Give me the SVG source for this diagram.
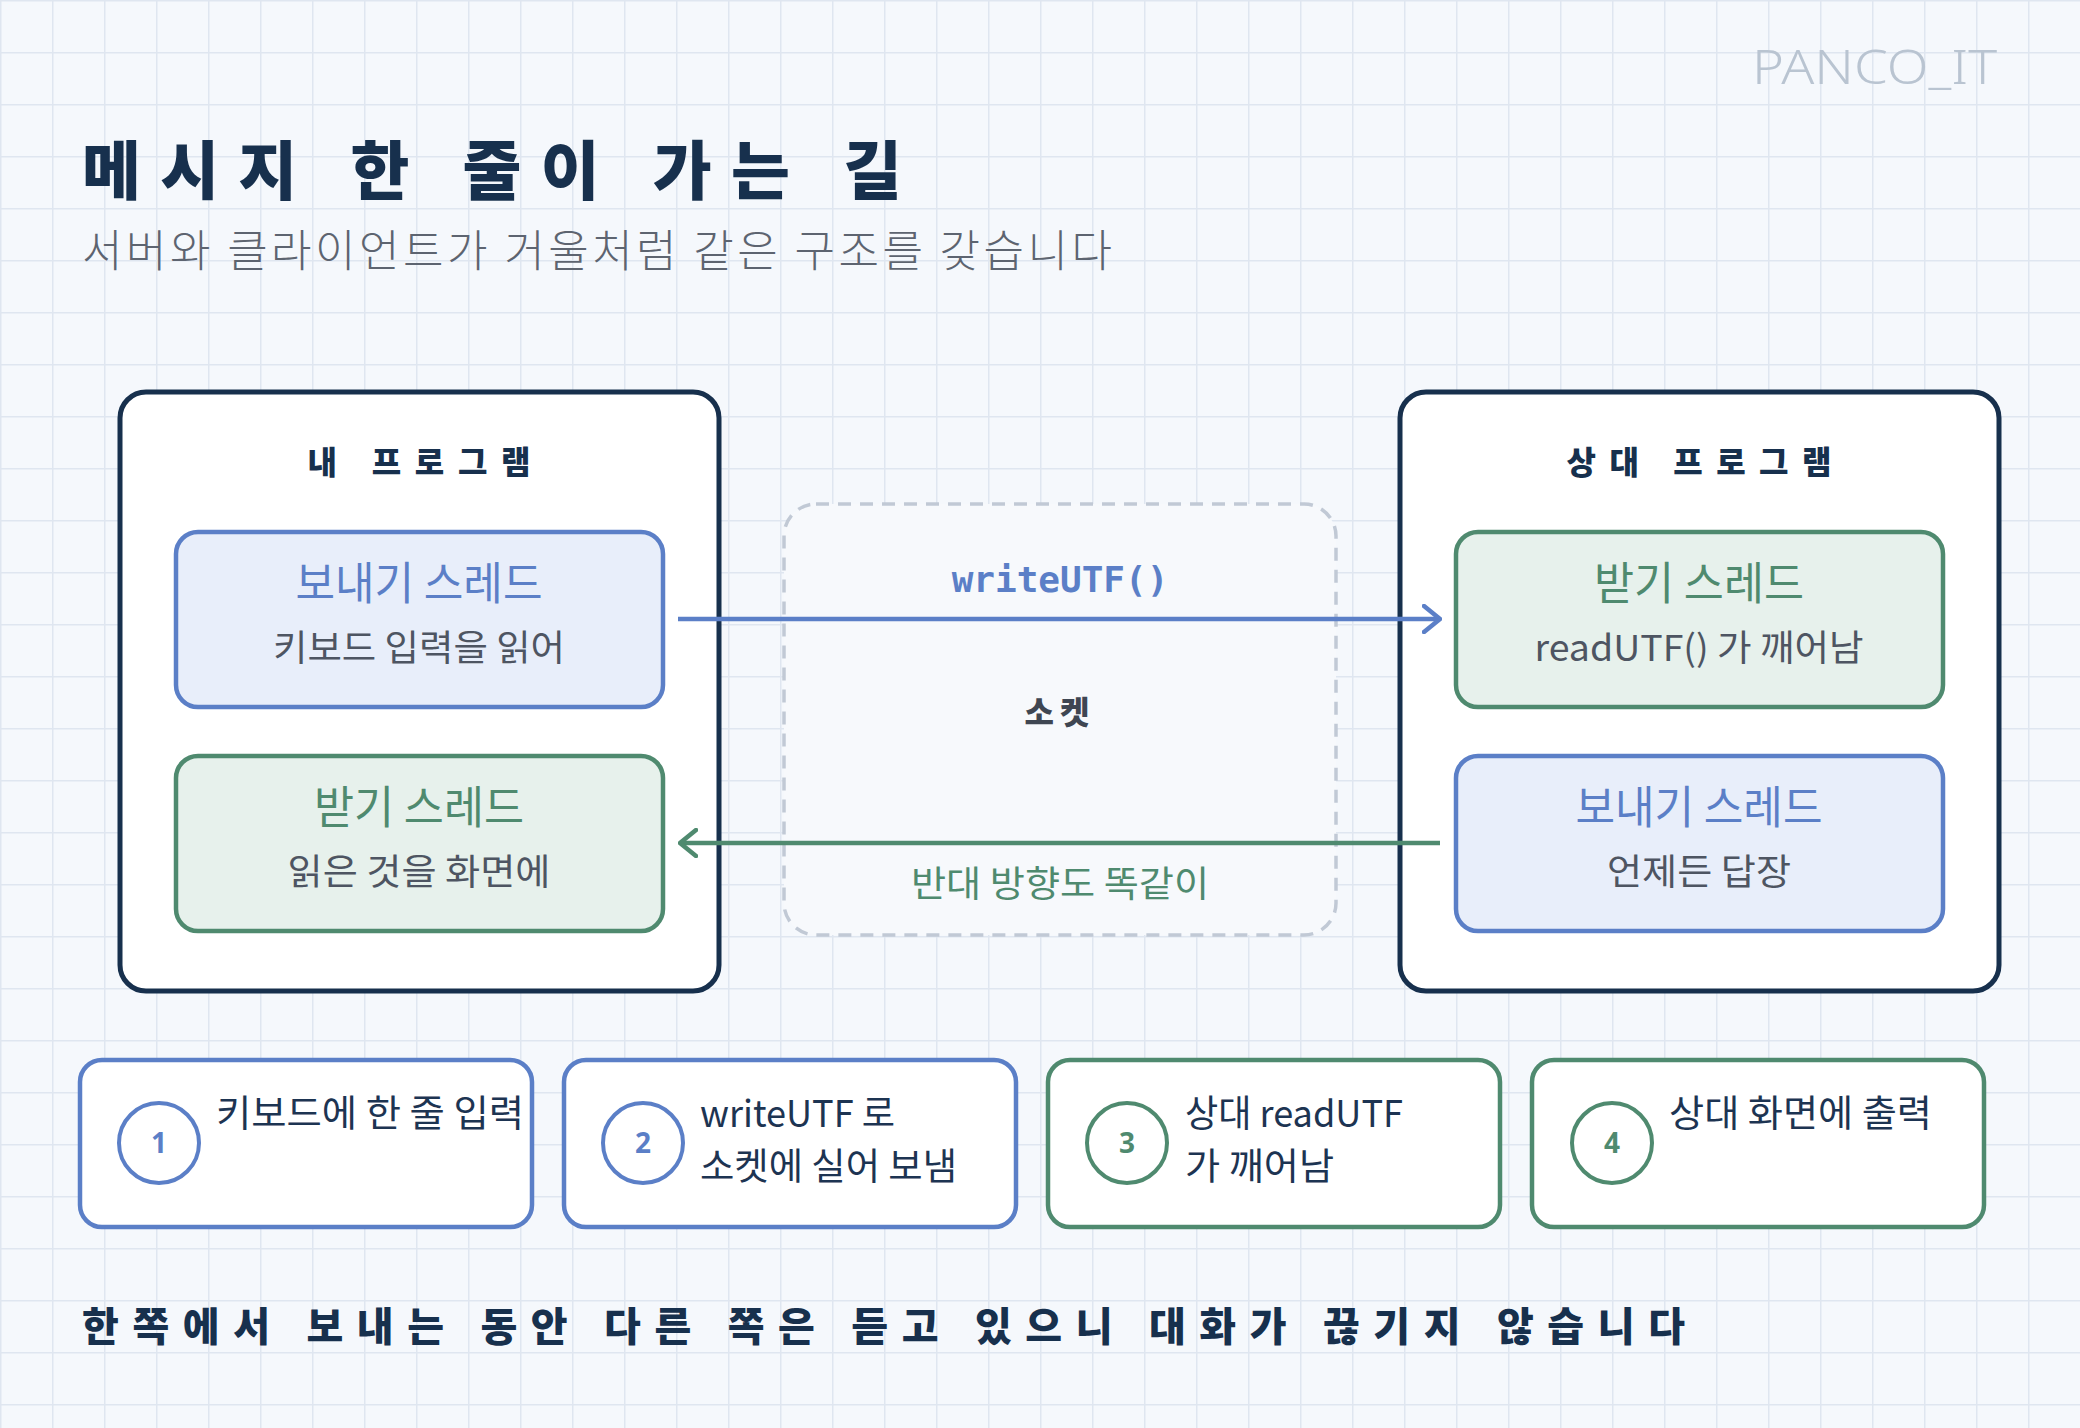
<svg xmlns="http://www.w3.org/2000/svg" width="2080" height="1428" viewBox="0 0 2080 1428">
<defs>
<pattern id="grid" width="52" height="52" patternUnits="userSpaceOnUse">
<path d="M0 0.75 H52 M0.75 0 V52" fill="none" stroke="#dfe6f0" stroke-width="1.5"/>
</pattern>
<marker id="ahBlue" viewBox="0 0 20 30" refX="18" refY="15" markerWidth="20" markerHeight="30" markerUnits="userSpaceOnUse" orient="auto">
<path d="M2 2 L18 15 L2 28" fill="none" stroke="#5b7fc7" stroke-width="4.5" stroke-linecap="round" stroke-linejoin="round"/>
</marker>
<marker id="ahGreen" viewBox="0 0 20 30" refX="18" refY="15" markerWidth="20" markerHeight="30" markerUnits="userSpaceOnUse" orient="auto">
<path d="M2 2 L18 15 L2 28" fill="none" stroke="#4f8a6f" stroke-width="4.5" stroke-linecap="round" stroke-linejoin="round"/>
</marker>
</defs>
<style>
.kr{font-family:'Noto Sans CJK KR','Noto Sans',sans-serif}
.hand{font-family:'Noto Sans CJK KR',sans-serif;font-weight:900;fill:#17304d}
.big{fill:#ffffff;stroke:#17304d;stroke-width:5}
.bluebox{fill:#e8eefa;stroke:#5b7fc7;stroke-width:4.5}
.greenbox{fill:#e7f1ec;stroke:#4f8a6f;stroke-width:4.5}
.ttl{font-size:45px;text-anchor:middle}
.sub{font-size:36px;text-anchor:middle;fill:#4e5562}
.bluet{fill:#5b7fc7}
.greent{fill:#4f8a6f}
.step{fill:#ffffff;stroke-width:4.5}
.stext{font-size:37px;fill:#1d3452}
.num{font-family:'Noto Sans',sans-serif;font-weight:700;font-size:28px;text-anchor:middle}
</style>
<rect width="2080" height="1428" fill="#f5f8fc"/>
<rect width="2080" height="1428" fill="url(#grid)"/>

<text x="1997" y="84" text-anchor="end" font-family="'Noto Sans',sans-serif" font-weight="300" font-size="48" fill="#b9c4d1" textLength="245" lengthAdjust="spacingAndGlyphs">PANCO_IT</text>
<text class="hand" x="82" y="194" font-size="64" textLength="820" lengthAdjust="spacing">메시지 한 줄이 가는 길</text>
<text class="kr" x="82" y="267" font-size="44" font-weight="300" fill="#5d6470" textLength="1030" lengthAdjust="spacing">서버와 클라이언트가 거울처럼 같은 구조를 갖습니다</text>

<g id="socket">
<rect x="784" y="504" width="552" height="431" rx="32" fill="#f7f9fc" stroke="#c1c9d5" stroke-width="3.5" stroke-dasharray="13 9"/>
<text class="hand" x="1060" y="724" font-size="32" text-anchor="middle" style="fill:#3f4652" letter-spacing="6">소켓</text>
</g>

<g id="my-program">
<rect class="big" x="120" y="392" width="599" height="599" rx="26"/>
<text class="hand" x="419" y="474" font-size="32" text-anchor="middle" textLength="223" lengthAdjust="spacing">내 프로그램</text>
</g>
<g id="my-send">
<rect class="bluebox" x="176" y="532" width="487" height="175" rx="22"/>
<text class="kr ttl bluet" x="419" y="600" textLength="247" lengthAdjust="spacingAndGlyphs">보내기 스레드</text>
<text class="kr sub" x="419" y="661" textLength="292" lengthAdjust="spacingAndGlyphs">키보드 입력을 읽어</text>
</g>
<g id="my-recv">
<rect class="greenbox" x="176" y="756" width="487" height="175" rx="22"/>
<text class="kr ttl greent" x="419" y="824" textLength="210" lengthAdjust="spacingAndGlyphs">받기 스레드</text>
<text class="kr sub" x="419" y="885" textLength="263" lengthAdjust="spacingAndGlyphs">읽은 것을 화면에</text>
</g>

<g id="peer-program">
<rect class="big" x="1400" y="392" width="599" height="599" rx="26"/>
<text class="hand" x="1699" y="474" font-size="32" text-anchor="middle" textLength="265" lengthAdjust="spacing">상대 프로그램</text>
</g>
<g id="peer-recv">
<rect class="greenbox" x="1456" y="532" width="487" height="175" rx="22"/>
<text class="kr ttl greent" x="1699" y="600" textLength="210" lengthAdjust="spacingAndGlyphs">받기 스레드</text>
<text class="kr sub" x="1699" y="661" textLength="329" lengthAdjust="spacingAndGlyphs">readUTF() 가 깨어남</text>
</g>
<g id="peer-send">
<rect class="bluebox" x="1456" y="756" width="487" height="175" rx="22"/>
<text class="kr ttl bluet" x="1699" y="824" textLength="247" lengthAdjust="spacingAndGlyphs">보내기 스레드</text>
<text class="kr sub" x="1699" y="885" textLength="184" lengthAdjust="spacingAndGlyphs">언제든 답장</text>
</g>

<g id="connectors">
<line x1="678" y1="619" x2="1440" y2="619" stroke="#5b7fc7" stroke-width="4.5" marker-end="url(#ahBlue)"/>
<text x="1060" y="592" text-anchor="middle" font-family="'DejaVu Sans Mono',monospace" font-weight="700" font-size="36" fill="#5b7fc7">writeUTF()</text>
<line x1="1440" y1="843" x2="680" y2="843" stroke="#4f8a6f" stroke-width="4.5" marker-end="url(#ahGreen)"/>
<text class="kr" x="1060" y="897" text-anchor="middle" font-size="36" fill="#4f8a6f" textLength="298" lengthAdjust="spacingAndGlyphs">반대 방향도 똑같이</text>
</g>

<g id="step1">
<rect class="step" x="80" y="1060" width="452" height="167" rx="22" stroke="#5b7fc7"/>
<circle cx="159" cy="1143" r="40" fill="#ffffff" stroke="#5b7fc7" stroke-width="4"/>
<text class="num" x="159" y="1153" fill="#5b7fc7">1</text>
<text class="kr stext" x="216" y="1127" textLength="308" lengthAdjust="spacingAndGlyphs">키보드에 한 줄 입력</text>
</g>
<g id="step2">
<rect class="step" x="564" y="1060" width="452" height="167" rx="22" stroke="#5b7fc7"/>
<circle cx="643" cy="1143" r="40" fill="#ffffff" stroke="#5b7fc7" stroke-width="4"/>
<text class="num" x="643" y="1153" fill="#5b7fc7">2</text>
<text class="kr stext" x="700" y="1127" textLength="195" lengthAdjust="spacingAndGlyphs">writeUTF 로</text>
<text class="kr stext" x="700" y="1180" textLength="257" lengthAdjust="spacingAndGlyphs">소켓에 실어 보냄</text>
</g>
<g id="step3">
<rect class="step" x="1048" y="1060" width="452" height="167" rx="22" stroke="#4f8a6f"/>
<circle cx="1127" cy="1143" r="40" fill="#ffffff" stroke="#4f8a6f" stroke-width="4"/>
<text class="num" x="1127" y="1153" fill="#4f8a6f">3</text>
<text class="kr stext" x="1185" y="1127" textLength="218" lengthAdjust="spacingAndGlyphs">상대 readUTF</text>
<text class="kr stext" x="1185" y="1180" textLength="149" lengthAdjust="spacingAndGlyphs">가 깨어남</text>
</g>
<g id="step4">
<rect class="step" x="1532" y="1060" width="452" height="167" rx="22" stroke="#4f8a6f"/>
<circle cx="1612" cy="1143" r="40" fill="#ffffff" stroke="#4f8a6f" stroke-width="4"/>
<text class="num" x="1612" y="1153" fill="#4f8a6f">4</text>
<text class="kr stext" x="1669" y="1127" textLength="263" lengthAdjust="spacingAndGlyphs">상대 화면에 출력</text>
</g>

<text class="hand" x="82" y="1341" font-size="40" textLength="1603" lengthAdjust="spacing">한쪽에서 보내는 동안 다른 쪽은 듣고 있으니 대화가 끊기지 않습니다</text>
</svg>
